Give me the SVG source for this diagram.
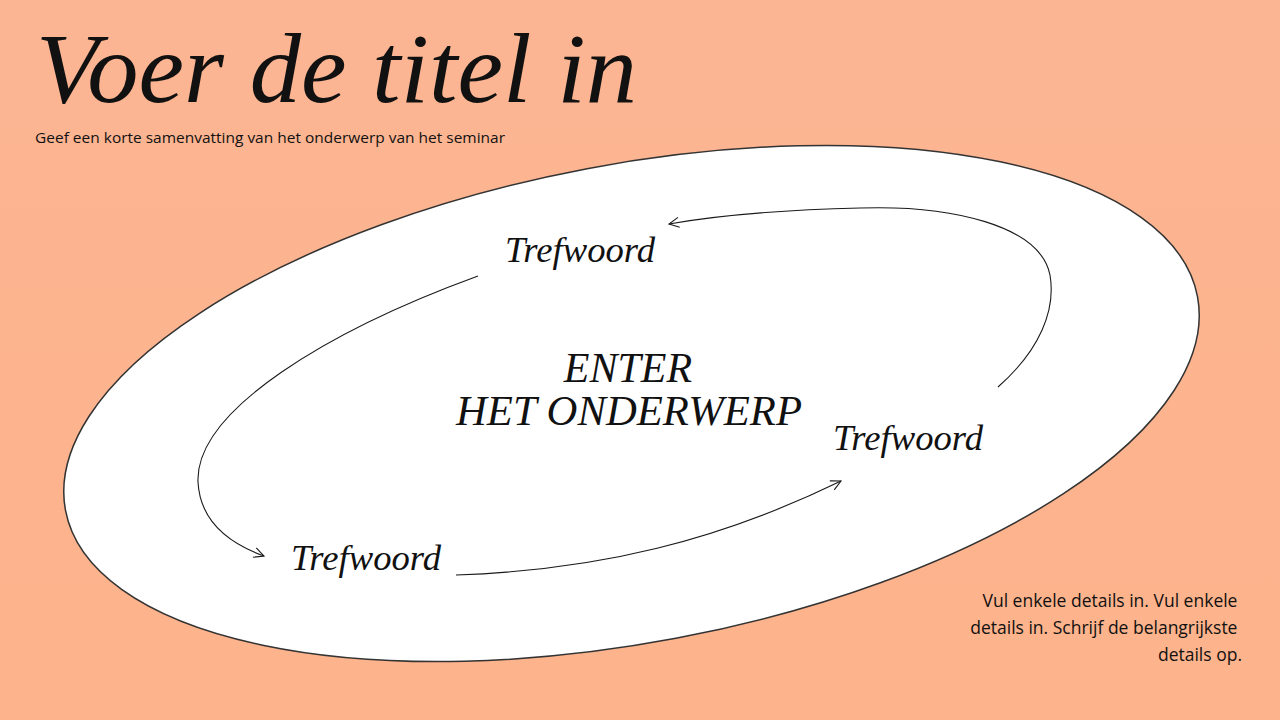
<svg xmlns="http://www.w3.org/2000/svg" width="1280" height="720" viewBox="0 0 1280 720">
  <defs>
    <linearGradient id="bg" x1="0" y1="0" x2="0" y2="1">
      <stop offset="0" stop-color="#FCB593"/>
      <stop offset="1" stop-color="#FDB38B"/>
    </linearGradient>
    <marker id="arr" markerWidth="14" markerHeight="14" refX="11" refY="6" orient="auto" markerUnits="userSpaceOnUse">
      <path d="M1,1 L11,6 L1,11" fill="none" stroke="#1a1a1a" stroke-width="1.1"/>
    </marker>
  </defs>
  <style>
    .serif { font-family: "Liberation Serif", "DejaVu Serif", serif; font-style: italic; fill: #111; }
    .sans { font-family: "Open Sans", "Liberation Sans", sans-serif; fill: #111; }
    .conn { fill: none; stroke: #1a1a1a; stroke-width: 1.1; marker-end: url(#arr); }
  </style>
  <rect width="1280" height="720" fill="url(#bg)"/>

  <g id="title">
    <text class="serif" x="36" y="102" font-size="100" textLength="601" lengthAdjust="spacingAndGlyphs">Voer de titel in</text>
    <text class="sans" x="35" y="143" font-size="15" textLength="470" lengthAdjust="spacingAndGlyphs">Geef een korte samenvatting van het onderwerp van het seminar</text>
  </g>

  <g id="ellipse">
    <ellipse cx="631.5" cy="403.5" rx="576" ry="239" transform="rotate(-10.7 631.5 403.5)" fill="#FFFFFF" stroke="#333333" stroke-width="1.5"/>
  </g>

  <g id="connectors">
    <path class="conn" d="M478,276 C330,330 195,410 198,482 C200,520 228,543 264,556"/>
    <path class="conn" d="M456,575 C600,570 720,540 841,481"/>
    <path class="conn" d="M998,387 C1040,350 1056,310 1050,275 C1040,225 950,205 860,208 C780,210 720,215 669,224"/>
  </g>

  <g id="center">
    <text class="serif" x="628" y="382" font-size="42" text-anchor="middle">ENTER</text>
    <text class="serif" x="629" y="425" font-size="42" text-anchor="middle" textLength="346" lengthAdjust="spacingAndGlyphs">HET ONDERWERP</text>
  </g>

  <g id="kw1">
    <text class="serif" x="505" y="262" font-size="35" textLength="150" lengthAdjust="spacingAndGlyphs">Trefwoord</text>
  </g>
  <g id="kw2">
    <text class="serif" x="833" y="450" font-size="35" textLength="150" lengthAdjust="spacingAndGlyphs">Trefwoord</text>
  </g>
  <g id="kw3">
    <text class="serif" x="291" y="570" font-size="35" textLength="150" lengthAdjust="spacingAndGlyphs">Trefwoord</text>
  </g>

  <g id="details">
    <text class="sans" font-size="17.5" text-anchor="end">
      <tspan x="1242" y="607">Vul enkele details in. Vul enkele</tspan>
      <tspan x="1242" y="634">details in. Schrijf de belangrijkste</tspan>
      <tspan x="1242" y="661">details op.</tspan>
    </text>
  </g>
</svg>
